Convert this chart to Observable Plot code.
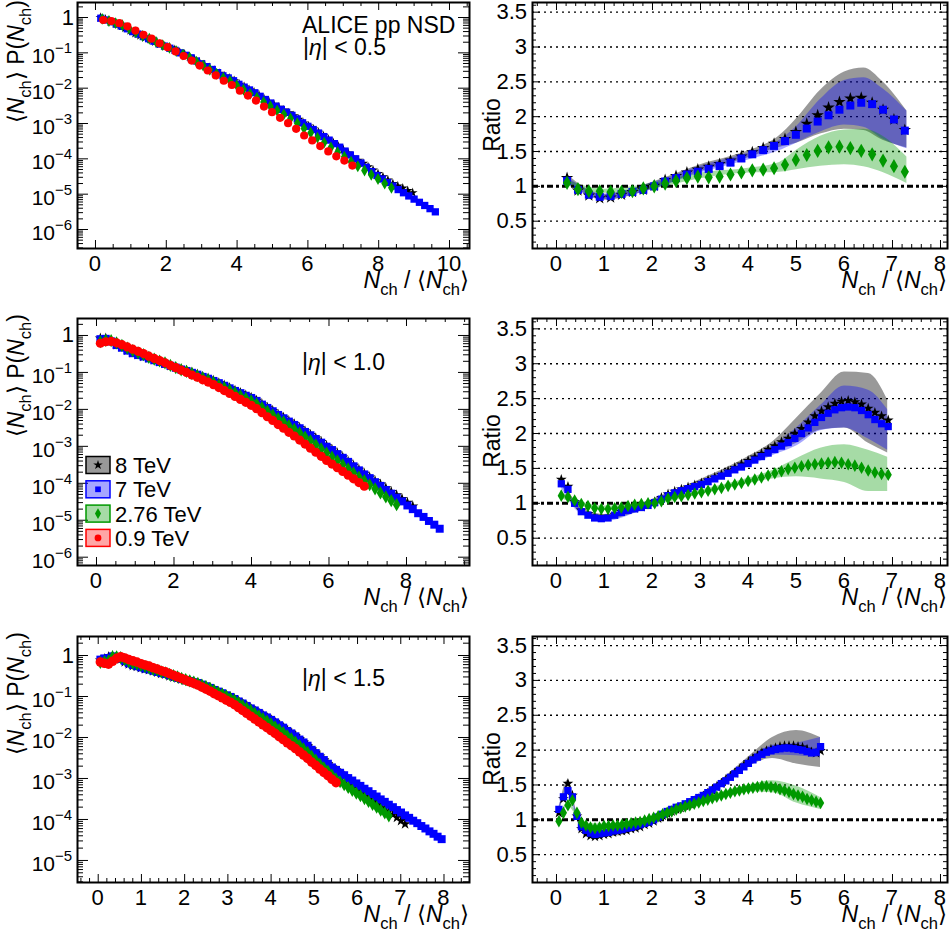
<!DOCTYPE html>
<html><head><meta charset="utf-8">
<script src="https://cdn.jsdelivr.net/npm/d3@7"></script>
<script src="https://cdn.jsdelivr.net/npm/@observablehq/plot@0.6"></script>
<style>
html,body{margin:0;padding:0;background:#fff;}
#root{position:relative;width:950px;height:934px;overflow:hidden;}
#root svg{position:absolute;overflow:visible;background:transparent;}
</style></head><body><div id="root"></div>
<script>
// ================= DATA =================
const energies = ["8 TeV", "7 TeV", "2.76 TeV", "0.9 TeV"];

// ---- |eta| < 0.5 : log10(<Nch> P(Nch)) ; point grid start/step per energy (8, 7, 2.76, 0.9 TeV)
const eta05_start = [0.14, 0.15, 0.19, 0.22];
const eta05_step  = [0.14, 0.15, 0.19, 0.227];
const eta05_P8 = [0.00,-0.05,-0.12,-0.17,-0.23,-0.30,-0.37,-0.45,-0.51,-0.57,-0.62,-0.69,-0.75,-0.81,-0.86,-0.91,-0.98,-1.04,-1.11,-1.19,-1.27,-1.34,-1.42,-1.50,-1.58,-1.66,-1.72,-1.79,-1.89,-1.96,-2.04,-2.11,-2.20,-2.30,-2.38,-2.46,-2.54,-2.62,-2.70,-2.78,-2.88,-2.99,-3.07,-3.16,-3.25,-3.35,-3.45,-3.55,-3.65,-3.74,-3.84,-3.95,-4.04,-4.13,-4.23,-4.32,-4.42,-4.51,-4.60,-4.70,-4.77,-4.83,-4.90,-4.96];
const eta05_P7 = [-0.02,-0.07,-0.12,-0.19,-0.25,-0.32,-0.40,-0.47,-0.54,-0.60,-0.67,-0.75,-0.81,-0.87,-0.93,-1.00,-1.07,-1.14,-1.23,-1.31,-1.39,-1.47,-1.56,-1.65,-1.71,-1.79,-1.89,-1.97,-2.05,-2.13,-2.23,-2.32,-2.42,-2.51,-2.60,-2.68,-2.77,-2.87,-2.98,-3.08,-3.17,-3.27,-3.37,-3.47,-3.57,-3.67,-3.78,-3.89,-4.00,-4.12,-4.24,-4.36,-4.47,-4.57,-4.67,-4.77,-4.87,-4.96,-5.05,-5.14,-5.23,-5.32,-5.41,-5.50];
const eta05_P276 = [-0.04,-0.10,-0.16,-0.22,-0.31,-0.42,-0.52,-0.60,-0.69,-0.78,-0.86,-0.95,-1.05,-1.14,-1.25,-1.36,-1.48,-1.59,-1.71,-1.80,-1.92,-2.04,-2.16,-2.27,-2.39,-2.51,-2.63,-2.74,-2.86,-2.99,-3.14,-3.26,-3.40,-3.54,-3.68,-3.81,-3.94,-4.08,-4.21,-4.33,-4.45,-4.57,-4.70,-4.82];
const eta05_P09 = [-0.07,-0.10,-0.16,-0.25,-0.37,-0.49,-0.60,-0.73,-0.84,-0.96,-1.09,-1.22,-1.36,-1.50,-1.64,-1.79,-1.91,-2.07,-2.21,-2.35,-2.52,-2.68,-2.84,-2.99,-3.15,-3.34,-3.48,-3.64,-3.79,-3.93,-4.05,-4.19];
// ratios to 0.9 TeV (on the 0.9 TeV grid)
const eta05_R8 = [1.12,0.94,0.87,0.83,0.84,0.88,0.92,0.95,1.01,1.09,1.15,1.20,1.24,1.28,1.32,1.37,1.43,1.49,1.55,1.61,1.68,1.78,1.90,2.02,2.13,2.21,2.26,2.27,2.20,2.10,1.96,1.81];
const eta05_R7 = [1.08,0.95,0.88,0.85,0.86,0.89,0.92,0.95,1.00,1.07,1.12,1.17,1.21,1.25,1.29,1.34,1.40,1.46,1.52,1.58,1.65,1.74,1.83,1.93,2.02,2.10,2.16,2.20,2.18,2.10,1.96,1.80];
const eta05_R276 = [1.05,0.96,0.93,0.93,0.92,0.92,0.93,0.97,1.00,1.04,1.08,1.12,1.14,1.13,1.14,1.17,1.20,1.23,1.24,1.26,1.31,1.38,1.45,1.51,1.56,1.57,1.55,1.51,1.46,1.37,1.29,1.21];
// systematic bands of the ratios
const eta05_bandX = [0.22,1.0,2.0,3.0,4.0,4.6,5.0,5.5,6.0,6.4,6.8,7.3];
const eta05_B8hi = [1.17,0.88,1.06,1.31,1.51,1.70,1.97,2.38,2.64,2.70,2.50,2.08];
const eta05_B8lo = [1.07,0.80,0.96,1.21,1.41,1.55,1.62,1.75,1.82,1.80,1.66,1.55];
const eta05_B7hi = [1.13,0.89,1.05,1.29,1.48,1.64,1.86,2.25,2.52,2.56,2.40,2.08];
const eta05_B7lo = [1.03,0.81,0.95,1.19,1.38,1.50,1.62,1.78,1.88,1.85,1.68,1.54];
const eta05_B276hi = [1.09,0.96,1.04,1.19,1.26,1.33,1.52,1.72,1.81,1.82,1.72,1.42];
const eta05_B276lo = [1.01,0.90,0.96,1.11,1.19,1.20,1.24,1.29,1.31,1.28,1.20,1.04];

// ---- |eta| < 1.0
const eta10_start = [0.1, 0.1, 0.1, 0.1];
const eta10_step  = [0.139, 0.139, 0.139, 0.139];
const eta10_P8 = [-0.08,-0.08,-0.15,-0.25,-0.32,-0.40,-0.47,-0.52,-0.57,-0.62,-0.66,-0.71,-0.76,-0.82,-0.86,-0.91,-0.95,-1.00,-1.05,-1.11,-1.16,-1.22,-1.29,-1.35,-1.42,-1.49,-1.55,-1.62,-1.68,-1.76,-1.86,-1.95,-2.04,-2.14,-2.22,-2.32,-2.40,-2.50,-2.59,-2.69,-2.78,-2.88,-2.99,-3.09,-3.19,-3.30,-3.41,-3.52,-3.63,-3.74,-3.84,-3.94,-4.03,-4.13,-4.23,-4.32,-4.42,-4.52,-4.62];
const eta10_P7 = [-0.10,-0.09,-0.16,-0.26,-0.33,-0.41,-0.48,-0.53,-0.57,-0.62,-0.67,-0.72,-0.77,-0.82,-0.87,-0.92,-0.96,-1.01,-1.06,-1.12,-1.17,-1.23,-1.29,-1.36,-1.43,-1.50,-1.56,-1.63,-1.69,-1.77,-1.87,-1.96,-2.05,-2.15,-2.24,-2.33,-2.42,-2.51,-2.61,-2.70,-2.80,-2.90,-3.01,-3.10,-3.21,-3.31,-3.42,-3.54,-3.65,-3.76,-3.86,-3.97,-4.07,-4.18,-4.28,-4.39,-4.49,-4.60,-4.70,-4.81,-4.91,-5.02,-5.12,-5.23];
const eta10_P276 = [-0.17,-0.13,-0.14,-0.20,-0.27,-0.34,-0.41,-0.47,-0.52,-0.59,-0.64,-0.69,-0.74,-0.81,-0.87,-0.93,-0.97,-1.03,-1.09,-1.15,-1.20,-1.27,-1.34,-1.41,-1.48,-1.55,-1.63,-1.70,-1.77,-1.85,-1.95,-2.05,-2.15,-2.25,-2.34,-2.44,-2.54,-2.64,-2.75,-2.85,-2.96,-3.07,-3.18,-3.29,-3.39,-3.50,-3.61,-3.72,-3.83,-3.93,-4.04,-4.15,-4.26,-4.37,-4.47,-4.58];
const eta10_P09 = [-0.21,-0.17,-0.16,-0.20,-0.25,-0.31,-0.37,-0.43,-0.49,-0.56,-0.62,-0.68,-0.74,-0.81,-0.87,-0.94,-1.00,-1.07,-1.13,-1.20,-1.26,-1.33,-1.41,-1.49,-1.57,-1.65,-1.73,-1.81,-1.89,-1.98,-2.09,-2.20,-2.30,-2.41,-2.51,-2.62,-2.72,-2.83,-2.94,-3.05,-3.16,-3.27,-3.38,-3.48,-3.58,-3.68,-3.78,-3.88,-3.98,-4.08];
const eta10_R8 = [1.34,1.24,1.02,0.90,0.85,0.81,0.80,0.81,0.84,0.88,0.91,0.93,0.95,0.98,1.02,1.08,1.13,1.17,1.20,1.23,1.26,1.29,1.33,1.37,1.41,1.46,1.51,1.56,1.61,1.66,1.71,1.77,1.82,1.88,1.93,2.00,2.07,2.16,2.25,2.32,2.38,2.43,2.46,2.47,2.45,2.42,2.36,2.30,2.25,2.19];
const eta10_R7 = [1.28,1.20,1.00,0.88,0.83,0.79,0.78,0.79,0.83,0.87,0.90,0.92,0.94,0.97,1.01,1.06,1.11,1.15,1.18,1.21,1.24,1.27,1.31,1.35,1.39,1.43,1.48,1.52,1.57,1.62,1.67,1.72,1.77,1.82,1.87,1.93,2.00,2.08,2.16,2.23,2.29,2.34,2.37,2.38,2.37,2.33,2.27,2.20,2.14,2.10];
const eta10_R276 = [1.11,1.09,1.04,0.99,0.96,0.93,0.92,0.92,0.93,0.94,0.96,0.98,0.99,1.00,1.00,1.03,1.07,1.09,1.10,1.12,1.14,1.16,1.18,1.20,1.22,1.25,1.27,1.29,1.32,1.34,1.37,1.40,1.43,1.46,1.49,1.51,1.53,1.55,1.56,1.57,1.58,1.59,1.58,1.56,1.54,1.51,1.47,1.44,1.42,1.41];
const eta10_bandX = [0.1,0.5,1.0,2.0,3.0,4.0,4.5,5.0,5.5,6.0,6.5,6.9];
const eta10_B8hi = [1.40,0.95,0.84,1.06,1.34,1.67,1.88,2.22,2.57,2.88,2.86,2.48];
const eta10_B8lo = [1.28,0.87,0.76,0.96,1.24,1.55,1.72,1.86,2.05,2.08,1.86,1.72];
const eta10_B7hi = [1.34,0.93,0.82,1.04,1.31,1.62,1.82,2.08,2.40,2.68,2.62,2.34];
const eta10_B7lo = [1.22,0.85,0.74,0.96,1.23,1.52,1.68,1.82,2.04,2.08,1.92,1.76];
const eta10_B276hi = [1.15,1.03,0.96,1.03,1.19,1.36,1.47,1.64,1.79,1.84,1.76,1.66];
const eta10_B276lo = [1.07,0.97,0.90,0.97,1.13,1.28,1.35,1.38,1.35,1.30,1.17,1.17];

// ---- |eta| < 1.5
const eta15_start = [0.05, 0.05, 0.05, 0.05];
const eta15_step  = [0.094, 0.094, 0.094, 0.094];
const eta15_P8 = [-0.12,-0.08,-0.03,-0.01,-0.05,-0.09,-0.16,-0.21,-0.25,-0.27,-0.30,-0.33,-0.35,-0.38,-0.41,-0.44,-0.46,-0.50,-0.53,-0.55,-0.58,-0.61,-0.63,-0.66,-0.68,-0.72,-0.76,-0.80,-0.85,-0.89,-0.93,-0.98,-1.01,-1.06,-1.12,-1.17,-1.23,-1.28,-1.34,-1.40,-1.45,-1.51,-1.57,-1.63,-1.70,-1.76,-1.83,-1.90,-1.96,-2.04,-2.12,-2.20,-2.29,-2.37,-2.46,-2.55,-2.64,-2.73,-2.80,-2.88,-2.95,-3.03,-3.11,-3.18,-3.26,-3.34,-3.41,-3.49,-3.57,-3.65,-3.72,-3.80,-3.88,-3.95,-4.03,-4.11];
const eta15_P7 = [-0.10,-0.07,-0.06,-0.02,-0.05,-0.08,-0.13,-0.19,-0.23,-0.26,-0.29,-0.32,-0.34,-0.37,-0.40,-0.43,-0.45,-0.48,-0.51,-0.54,-0.57,-0.60,-0.62,-0.65,-0.67,-0.71,-0.75,-0.79,-0.84,-0.88,-0.92,-0.97,-1.01,-1.06,-1.12,-1.17,-1.23,-1.29,-1.34,-1.40,-1.46,-1.51,-1.57,-1.63,-1.70,-1.76,-1.84,-1.90,-1.97,-2.05,-2.12,-2.20,-2.30,-2.38,-2.47,-2.55,-2.64,-2.73,-2.79,-2.86,-2.92,-2.99,-3.05,-3.12,-3.18,-3.25,-3.31,-3.38,-3.44,-3.51,-3.57,-3.64,-3.70,-3.77,-3.83,-3.90,-3.96,-4.03,-4.09,-4.16,-4.22,-4.29,-4.35,-4.42,-4.48];
const eta15_P276 = [-0.17,-0.15,-0.13,-0.03,-0.03,-0.05,-0.10,-0.15,-0.19,-0.21,-0.24,-0.27,-0.30,-0.34,-0.36,-0.40,-0.42,-0.46,-0.49,-0.52,-0.56,-0.59,-0.62,-0.65,-0.68,-0.72,-0.76,-0.80,-0.85,-0.90,-0.94,-0.99,-1.04,-1.09,-1.15,-1.22,-1.28,-1.34,-1.41,-1.47,-1.54,-1.60,-1.67,-1.74,-1.81,-1.88,-1.96,-2.03,-2.11,-2.19,-2.28,-2.36,-2.46,-2.55,-2.65,-2.74,-2.82,-2.92,-3.01,-3.08,-3.15,-3.22,-3.29,-3.36,-3.42,-3.49,-3.56,-3.63,-3.70,-3.77,-3.84,-3.91];
const eta15_P09 = [-0.16,-0.19,-0.21,-0.14,-0.07,-0.03,-0.06,-0.10,-0.13,-0.16,-0.20,-0.23,-0.26,-0.30,-0.33,-0.37,-0.40,-0.44,-0.48,-0.52,-0.56,-0.60,-0.64,-0.68,-0.72,-0.77,-0.82,-0.87,-0.93,-0.98,-1.03,-1.09,-1.14,-1.20,-1.27,-1.34,-1.41,-1.48,-1.55,-1.62,-1.69,-1.76,-1.83,-1.90,-1.98,-2.05,-2.13,-2.20,-2.27,-2.35,-2.43,-2.51,-2.60,-2.68,-2.77,-2.85,-2.93,-3.02,-3.10];
const eta15_R8 = [1.10,1.30,1.52,1.35,1.05,0.87,0.80,0.77,0.76,0.77,0.79,0.80,0.82,0.83,0.84,0.85,0.87,0.88,0.90,0.93,0.95,0.98,1.02,1.06,1.09,1.12,1.15,1.17,1.20,1.23,1.27,1.30,1.34,1.38,1.42,1.47,1.52,1.57,1.62,1.67,1.72,1.78,1.83,1.88,1.92,1.96,1.99,2.01,2.03,2.05,2.06,2.06,2.06,2.05,2.04,2.01,1.97,1.96,1.99];
const eta15_R7 = [1.15,1.33,1.42,1.33,1.05,0.90,0.85,0.81,0.79,0.80,0.81,0.82,0.84,0.85,0.86,0.88,0.89,0.91,0.93,0.95,0.97,1.00,1.04,1.08,1.12,1.15,1.18,1.20,1.23,1.26,1.29,1.32,1.35,1.39,1.43,1.47,1.52,1.56,1.61,1.66,1.71,1.76,1.81,1.86,1.90,1.94,1.97,1.99,2.01,2.02,2.03,2.03,2.02,2.01,2.00,1.98,1.96,1.97,2.05];
const eta15_R276 = [0.98,1.10,1.21,1.28,1.10,0.96,0.92,0.89,0.88,0.89,0.91,0.91,0.92,0.92,0.93,0.94,0.95,0.96,0.97,0.99,1.01,1.03,1.05,1.08,1.10,1.12,1.15,1.17,1.19,1.21,1.23,1.25,1.27,1.29,1.31,1.33,1.35,1.37,1.39,1.41,1.42,1.44,1.45,1.46,1.47,1.48,1.48,1.47,1.46,1.44,1.42,1.40,1.37,1.35,1.33,1.30,1.28,1.26,1.24];
const eta15_bandX = [0.05,0.24,0.45,0.6,1.0,2.0,3.0,3.5,4.0,4.5,5.0,5.5];
const eta15_B8hi = [1.14,1.57,1.04,0.85,0.83,1.01,1.36,1.61,1.90,2.18,2.28,2.18];
const eta15_B8lo = [1.06,1.47,0.96,0.77,0.75,0.93,1.28,1.51,1.76,1.88,1.80,1.75];
const eta15_B7hi = [1.19,1.46,1.04,0.90,0.85,1.03,1.37,1.59,1.86,2.07,2.10,2.18];
const eta15_B7lo = [1.11,1.38,0.96,0.82,0.77,0.95,1.29,1.51,1.76,1.93,1.92,1.89];
const eta15_B276hi = [1.01,1.25,1.08,0.95,0.94,1.05,1.30,1.41,1.50,1.56,1.48,1.32];
const eta15_B276lo = [0.95,1.19,1.02,0.89,0.88,0.99,1.22,1.33,1.40,1.39,1.24,1.15];

// tick labels
const leftXTicks05 = [0, 2, 4, 6, 8, 10];
const leftXTicks10 = [0, 2, 4, 6, 8];
const leftXTicks15 = [0, 1, 2, 3, 4, 5, 6, 7, 8];
const decades05 = [0, -1, -2, -3, -4, -5, -6];
const decades10 = [0, -1, -2, -3, -4, -5, -6];
const decades15 = [0, -1, -2, -3, -4, -5];
const ratioXTicks = [0, 1, 2, 3, 4, 5, 6, 7, 8];
const ratioYTicks = [0.5, 1, 1.5, 2, 2.5, 3, 3.5];
const ratioYLabels = ["0.5", "1", "1.5", "2", "2.5", "3", "3.5"];

// ================= STYLE =================
const FONT = '"Liberation Sans", Arial, Helvetica, sans-serif';
const COLS = ["#000000", "#0000ff", "#009900", "#ff0000"];
const SYMS = ["star", "square", "diamond", "circle"];
const BANDCOL = ["#000000", "#0000ff", "#009900"];
const BANDOP = [0.4, 0.35, 0.35];
const TICKFS = 22;
const TITLE_DY = 40;
const root = document.getElementById("root");

function minorLinear(dom, step, majors) {
  const out = [];
  for (let k = Math.ceil(dom[0] / step - 1e-9); k * step <= dom[1] + 1e-9; k++) {
    const v = +(k * step).toFixed(6);
    if (!majors.some(m => Math.abs(m - v) < 1e-6)) out.push(v);
  }
  return out;
}
function minorLog(dom) {
  const out = [];
  for (let d = Math.floor(Math.log10(dom[0])); d <= Math.ceil(Math.log10(dom[1])); d++)
    for (let m = 2; m <= 9; m++) { const v = m * Math.pow(10, d); if (v > dom[0] && v < dom[1]) out.push(v); }
  return out;
}
function rich(svg, x, y, parts, {size = 21, anchor = "start", rotate = 0} = {}) {
  const t = d3.select(svg).append("text")
    .attr("font-family", FONT).attr("font-size", size).attr("text-anchor", anchor).attr("fill", "#000");
  if (rotate) t.attr("transform", `translate(${x},${y}) rotate(${rotate})`);
  else t.attr("x", x).attr("y", y);
  let shift = 0;
  for (const p of parts) {
    const [txt, kind] = Array.isArray(p) ? p : [p, ""];
    const ts = t.append("tspan").text(txt);
    let target = 0, fs = size;
    if (kind === "sub") { target = size * 0.3; fs = size * 0.72; }
    if (kind === "sup") { target = -size * 0.45; fs = size * 0.7; }
    if (kind === "it") ts.attr("font-style", "italic");
    ts.attr("font-size", fs);
    if (target !== shift) { ts.attr("dy", target - shift); shift = target; }
  }
  return t;
}
const xTitle = [["N", "it"], ["ch", "sub"], [" / \u27E8", ""], ["N", "it"], ["ch", "sub"], ["\u27E9", ""]];
const yTitleLeft = [["\u27E8", ""], ["N", "it"], ["ch", "sub"], ["\u27E9 P(", ""], ["N", "it"], ["ch", "sub"], [")", ""]];

function ticksMarks(fW, fH, xMaj, xMin, yMaj, yMin, yMajLen, yMinLen) {
  return [
    Plot.tickX(xMaj, {x: d => d, insetTop: fH - 8, stroke: "#000", strokeWidth: 1}),
    Plot.tickX(xMaj, {x: d => d, insetBottom: fH - 8, stroke: "#000", strokeWidth: 1}),
    Plot.tickX(xMin, {x: d => d, insetTop: fH - 4, stroke: "#000", strokeWidth: 1}),
    Plot.tickX(xMin, {x: d => d, insetBottom: fH - 4, stroke: "#000", strokeWidth: 1}),
    Plot.tickY(yMaj, {y: d => d, insetRight: fW - yMajLen, stroke: "#000", strokeWidth: 1}),
    Plot.tickY(yMaj, {y: d => d, insetLeft: fW - yMajLen, stroke: "#000", strokeWidth: 1}),
    Plot.tickY(yMin, {y: d => d, insetRight: fW - yMinLen, stroke: "#000", strokeWidth: 1}),
    Plot.tickY(yMin, {y: d => d, insetLeft: fW - yMinLen, stroke: "#000", strokeWidth: 1})
  ];
}

function buildLeft(o) {
  const W = 480, mL = 77, mR = 11, fW = W - mL - mR;
  const H = o.mTop + o.fH + o.mBottom;
  const yMaj = o.decades.map(d => Math.pow(10, d));
  const marks = ticksMarks(fW, o.fH, o.xTicks, minorLinear(o.xDom, o.xMinorStep, o.xTicks), yMaj, minorLog(o.yDom), 11, 6);
  o.P.forEach((arr, k) => {
    const pts = arr.map((v, i) => ({x: o.start[k] + o.step[k] * i, y: Math.pow(10, v)}));
    marks.push(Plot.dot(pts, {x: "x", y: "y", symbol: SYMS[k], fill: COLS[k], r: o.rs[k]}));
  });
  marks.push(Plot.frame({stroke: "#000", strokeWidth: 2}));
  const svg = Plot.plot({
    width: W, height: H, marginLeft: mL, marginRight: mR, marginTop: o.mTop, marginBottom: o.mBottom,
    x: {domain: o.xDom, axis: null}, y: {type: "log", domain: o.yDom, axis: null},
    style: {background: "transparent", overflow: "visible"}, marks
  });
  svg.style.left = "0px"; svg.style.top = o.svgTop + "px";
  root.appendChild(svg);
  const sx = svg.scale("x"), sy = svg.scale("y");
  const bottom = o.mTop + o.fH;
  o.xTicks.forEach(v => rich(svg, sx.apply(v), bottom + 23, [String(v)], {size: TICKFS, anchor: "middle"}));
  o.decades.forEach(d => {
    const y = sy.apply(Math.pow(10, d));
    if (d === 0) rich(svg, mL - 3, y + 7.5, ["1"], {size: TICKFS, anchor: "end"});
    else {
      rich(svg, mL - 22, y + 11, ["10"], {size: 21, anchor: "end"});
      rich(svg, mL - 22, y + 1, ["\u2212" + (-d)], {size: 15, anchor: "start"});
    }
  });
  rich(svg, W - mR, bottom + TITLE_DY, xTitle, {size: 23, anchor: "end"});
  rich(svg, 24, Math.max(o.mTop - 4, 0), yTitleLeft, {size: 23, anchor: "end", rotate: -90});
  o.labels.forEach(l => rich(svg, l.x, l.y, l.parts, {size: 23}));
  if (o.legend) {
    const cy0 = o.legend.y0, dy = o.legend.dy;
    const g = d3.select(svg).append("g");
    const lsz = [Math.PI * 3.0 * 3.0, Math.PI * 3.2 * 3.2, Math.PI * 3.2 * 3.2, Math.PI * 3.4 * 3.4];
    const lsym = [d3.symbolStar, d3.symbolSquare, d3.symbolDiamond, d3.symbolCircle];
    energies.forEach((e, k) => {
      const cy = cy0 + k * dy;
      g.append("rect").attr("x", 86).attr("y", cy - 8.5).attr("width", 24).attr("height", 17)
        .attr("fill", COLS[k]).attr("fill-opacity", k === 0 ? 0.4 : 0.35)
        .attr("stroke", COLS[k]).attr("stroke-width", 1.5);
      g.append("path").attr("d", d3.symbol(lsym[k], lsz[k])()).attr("transform", `translate(98,${cy})`).attr("fill", COLS[k]);
      rich(svg, 115, cy + 8, [e], {size: 22});
    });
  }
}

function buildRight(o) {
  const W = 470, mL = 52, mR = 3, fW = W - mL - mR;
  const H = o.mTop + o.fH + o.mBottom;
  const xDom = [-0.5, 8.146];
  const marks = ticksMarks(fW, o.fH, ratioXTicks, minorLinear(xDom, 0.2, ratioXTicks), ratioYTicks, minorLinear(o.yDom, 0.1, ratioYTicks), 8, 4);
  marks.push(Plot.ruleY(ratioYTicks.filter(v => v !== 1), {stroke: "#000", strokeWidth: 1.3, strokeDasharray: "2,4"}));
  o.bands.forEach((b, k) => {
    const rows = o.bandX.map((x, i) => ({x, lo: b[0][i], hi: b[1][i]}));
    marks.push(Plot.areaY(rows, {x: "x", y1: "lo", y2: "hi", fill: BANDCOL[k], fillOpacity: BANDOP[k], curve: "monotone-x"}));
  });
  marks.push(Plot.ruleY([1], {stroke: "#000", strokeWidth: 3, strokeDasharray: "6,3,3,3"}));
  o.R.forEach((arr, k) => {
    const pts = arr.map((v, i) => ({x: o.start + o.step * i, y: v}));
    marks.push(Plot.dot(pts, {x: "x", y: "y", symbol: SYMS[k], fill: COLS[k], r: o.rs[k]}));
  });
  marks.push(Plot.frame({stroke: "#000", strokeWidth: 2}));
  const svg = Plot.plot({
    width: W, height: H, marginLeft: mL, marginRight: mR, marginTop: o.mTop, marginBottom: o.mBottom,
    x: {domain: xDom, axis: null}, y: {domain: o.yDom, axis: null},
    style: {background: "transparent", overflow: "visible"}, marks
  });
  svg.style.left = "480px"; svg.style.top = o.svgTop + "px";
  root.appendChild(svg);
  const sx = svg.scale("x"), sy = svg.scale("y");
  const bottom = o.mTop + o.fH;
  ratioXTicks.forEach(v => rich(svg, sx.apply(v), bottom + 23, [String(v)], {size: TICKFS, anchor: "middle"}));
  ratioYTicks.forEach((v, i) => rich(svg, mL - 5, sy.apply(v) + 7.5, [ratioYLabels[i]], {size: TICKFS, anchor: "end"}));
  rich(svg, W - mR, bottom + TITLE_DY, xTitle, {size: 23, anchor: "end"});
  rich(svg, 20, o.mTop + 123, ["Ratio"], {size: 23, anchor: "middle", rotate: -90});
}

// ================= PANELS =================
const eta = v => [["|", ""], ["\u03B7", "it"], ["| < " + v, ""]];
buildLeft({svgTop: 0, mTop: 2, fH: 246, mBottom: 52, xDom: [-0.508, 10.565], yDom: [2.9e-7, 2.66],
  xTicks: leftXTicks05, xMinorStep: 0.5, decades: decades05, rs: [3.1, 4.1, 3.6, 4.1],
  start: eta05_start, step: eta05_step, P: [eta05_P8, eta05_P7, eta05_P276, eta05_P09],
  labels: [{x: 302, y: 33, parts: ["ALICE pp NSD"]}, {x: 303, y: 55, parts: eta("0.5")}]});
buildLeft({svgTop: 300, mTop: 18, fH: 247, mBottom: 55, xDom: [-0.49, 9.626], yDom: [5.96e-7, 2.88],
  xTicks: leftXTicks10, xMinorStep: 0.5, decades: decades10, rs: [3.5, 4.5, 4.0, 4.6],
  start: eta10_start, step: eta10_step, P: [eta10_P8, eta10_P7, eta10_P276, eta10_P09],
  labels: [{x: 302, y: 70, parts: eta("1.0")}], legend: {y0: 165, dy: 24.3}});
buildLeft({svgTop: 620, mTop: 16, fH: 246, mBottom: 48, xDom: [-0.479, 8.59], yDom: [2.9e-6, 2.91],
  xTicks: leftXTicks15, xMinorStep: 0.2, decades: decades15, rs: [3.5, 4.5, 4.0, 4.8],
  start: eta15_start, step: eta15_step, P: [eta15_P8, eta15_P7, eta15_P276, eta15_P09],
  labels: [{x: 302, y: 66, parts: eta("1.5")}]});

buildRight({svgTop: 0, mTop: 2, fH: 246, mBottom: 52, yDom: [0.108, 3.639],
  start: eta05_start[3], step: eta05_step[3], R: [eta05_R8, eta05_R7, eta05_R276], rs: [3.9, 4.5, 4.3],
  bandX: eta05_bandX, bands: [[eta05_B8lo, eta05_B8hi], [eta05_B7lo, eta05_B7hi], [eta05_B276lo, eta05_B276hi]]});
buildRight({svgTop: 300, mTop: 18, fH: 247, mBottom: 55, yDom: [0.109, 3.648],
  start: eta10_start[3], step: eta10_step[3], R: [eta10_R8, eta10_R7, eta10_R276], rs: [3.4, 4.1, 3.8],
  bandX: eta10_bandX, bands: [[eta10_B8lo, eta10_B8hi], [eta10_B7lo, eta10_B7hi], [eta10_B276lo, eta10_B276hi]]});
buildRight({svgTop: 620, mTop: 16, fH: 246, mBottom: 48, yDom: [0.101, 3.63],
  start: eta15_start[3], step: eta15_step[3], R: [eta15_R8, eta15_R7, eta15_R276], rs: [3.4, 4.1, 3.8],
  bandX: eta15_bandX, bands: [[eta15_B8lo, eta15_B8hi], [eta15_B7lo, eta15_B7hi], [eta15_B276lo, eta15_B276hi]]});
</script></body></html>
